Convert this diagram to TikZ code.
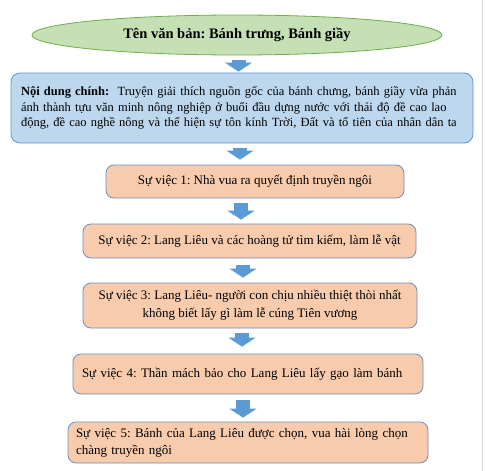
\documentclass[tikz,border=0pt]{standalone}
\usepackage{fontspec}
\setmainfont{Liberation Serif}
\usetikzlibrary{arrows.meta,shapes.geometric}
\definecolor{greenfill}{HTML}{C5E0B4}
\definecolor{greenline}{HTML}{70AD47}
\definecolor{bluefill}{HTML}{BDD7EE}
\definecolor{blueline}{HTML}{5B9BD5}
\definecolor{peachfill}{HTML}{F8CBAD}
\definecolor{peachline}{HTML}{6A8FBF}
\definecolor{arrowblue}{HTML}{5B9BD5}
\definecolor{framegray}{HTML}{D9D9D9}
\frenchspacing
\begin{document}
\begin{tikzpicture}[x=1pt,y=-1pt,
  titleell/.style={ellipse, draw=greenline, fill=greenfill, line width=0.8pt,
    minimum width=410pt, minimum height=40pt, inner sep=0pt,
    font=\fontsize{14.5}{17}\selectfont\bfseries},
  mainbox/.style={rectangle, draw=blueline, fill=bluefill, line width=0.8pt,
    rounded corners=9pt, minimum width=462pt, minimum height=70pt,
    inner xsep=10pt, inner ysep=0pt, text width=442pt, align=left,
    font=\fontsize{12.5}{15.5}\selectfont},
  eventbox/.style={rectangle, draw=peachline, fill=peachfill, line width=0.8pt,
    rounded corners=8pt, inner ysep=0pt, font=\fontsize{13}{18}\selectfont},
  blockarrow/.style={draw=arrowblue, line width=14pt,
    -{Triangle[width=27pt,length=9pt]}}
]
\useasboundingbox (0,0) rectangle (485,471);
\fill[white] (0,0) rectangle (485,471);
\draw[framegray, line width=1pt] (482,0) -- (482,471);

\node[titleell] (title) at (237,35) {Tên văn bản: Bánh trưng, Bánh giầy};

\node[mainbox] (main) at (242,108) {%
\makebox[442pt][s]{\textbf{Nội dung chính:}\ \ Truyện giải thích nguồn gốc của bánh chưng, bánh giầy vừa phản}\\
\makebox[442pt][s]{ánh thành tựu văn minh nông nghiệp ở buổi đầu dựng nước với thái độ đề cao lao}\\
\makebox[442pt][s]{động, đề cao nghề nông và thể hiện sự tôn kính Trời, Đất và tổ tiên của nhân dân ta}};

\node[eventbox, minimum width=298pt, minimum height=33pt, inner xsep=4pt, align=center]
  (e1) at (255,181.5) {Sự việc 1: Nhà vua ra quyết định truyền ngôi};

\node[eventbox, minimum width=333pt, minimum height=34pt, inner xsep=4pt, align=center]
  (e2) at (249.5,241) {Sự việc 2: Lang Liêu và các hoàng tử tìm kiếm, làm lễ vật};

\node[eventbox, minimum width=334pt, minimum height=45pt, inner xsep=4pt, align=center]
  (e3) at (250,305.5) {Sự việc 3: Lang Liêu- người con chịu nhiều thiệt thòi nhất\\không biết lấy gì làm lễ cúng Tiên vương};

\node[eventbox, minimum width=350pt, minimum height=40pt, inner xsep=9pt, text width=332pt, align=left]
  (e4) at (248,374) {Sự việc 4: Thần mách bảo cho Lang Liêu lấy gạo làm bánh};

\node[eventbox, minimum width=360pt, minimum height=41pt, inner xsep=8pt, text width=344pt, align=left,
  font=\fontsize{13}{17}\selectfont]
  (e5) at (248,442.5) {\makebox[343pt][s]{Sự việc 5: Bánh của Lang Liêu được chọn, vua hài lòng chọn}\\chàng truyền ngôi};

\coordinate (ax1) at (238.5,0);
\coordinate (ax2) at (240,0);
\coordinate (ax3) at (241,0);
\coordinate (ax4) at (243,0);
\coordinate (ax5) at (242,0);
\coordinate (ax6) at (243,0);

\draw[blockarrow, shorten <=5pt, shorten >=1pt] (title.south -| ax1) -- (main.north -| ax1);
\draw[blockarrow, shorten <=5pt, shorten >=5pt] (main.south -| ax2) -- (e1.north -| ax2);
\draw[blockarrow, shorten <=5pt, shorten >=4pt] (e1.south -| ax3) -- (e2.north -| ax3);
\draw[blockarrow, shorten <=7pt, shorten >=5pt] (e2.south -| ax4) -- (e3.north -| ax4);
\draw[blockarrow, shorten <=5pt, shorten >=7pt] (e3.south -| ax5) -- (e4.north -| ax5);
\draw[blockarrow, shorten <=6pt, shorten >=4pt] (e4.south -| ax6) -- (e5.north -| ax6);
\end{tikzpicture}
\end{document}
